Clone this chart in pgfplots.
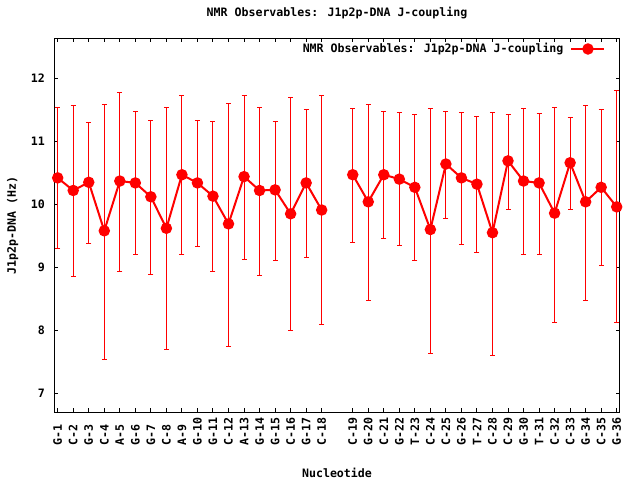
\documentclass[border=0pt]{standalone}
\usepackage{pgfplots}
\pgfplotsset{compat=1.18}
\usepackage{pgfplotstable}
\usepackage{fontspec}
\setmainfont{DejaVu Sans Mono}
\pgfplotstableread{
x y ep em
1 10.42 1.12 1.12
2 10.22 1.35 1.36
3 10.35 0.95 0.97
4 9.58 2.01 2.04
5 10.37 1.41 1.43
6 10.34 1.14 1.13
7 10.12 1.21 1.24
8 9.62 1.92 1.92
9 10.47 1.26 1.26
10 10.34 0.99 1.01
11 10.13 1.19 1.19
12 9.69 1.91 1.94
13 10.44 1.29 1.31
14 10.22 1.32 1.35
15 10.23 1.09 1.12
16 9.85 1.85 1.85
17 10.34 1.17 1.18
18 9.91 1.82 1.81
}\first
\pgfplotstableread{
x y ep em
20 10.47 1.05 1.07
21 10.04 1.55 1.56
22 10.47 1.01 1.01
23 10.40 1.06 1.05
24 10.27 1.16 1.16
25 9.60 1.92 1.97
26 10.64 0.84 0.86
27 10.42 1.04 1.05
28 10.32 1.08 1.08
29 9.55 1.91 1.95
30 10.69 0.74 0.77
31 10.37 1.15 1.16
32 10.34 1.10 1.13
33 9.86 1.68 1.73
34 10.66 0.72 0.74
35 10.04 1.53 1.56
36 10.27 1.24 1.24
37 9.96 1.84 1.83
}\second
\begin{document}
\begin{tikzpicture}
\path[use as bounding box] (-54.3bp,-67.7bp) rectangle (585.7bp,412.3bp);
\begin{axis}[
  at={(0,0)}, anchor=south west,
  scale only axis, width=565.4bp, height=374bp,
  xmin=0.781, xmax=37.193, ymin=6.70, ymax=12.635,
  font=\fontsize{11.6bp}{13bp}\selectfont\bfseries,
  /pgf/number format/assume math mode=true,
  axis line style={line width=1bp, black},
  tick style={line width=1bp, black},
  major tick length=4bp, tick align=inside,
  xtick={1,...,18,20,21,...,37},
  xticklabels={G-1,C-2,G-3,C-4,A-5,G-6,G-7,C-8,A-9,G-10,G-11,C-12,A-13,G-14,G-15,C-16,G-17,C-18,C-19,G-20,C-21,G-22,T-23,C-24,C-25,G-26,T-27,C-28,C-29,G-30,T-31,C-32,C-33,G-34,C-35,G-36},
  ytick={7,8,9,10,11,12},
  xticklabel style={yshift=-33.7bp, rotate=90, anchor=west, inner sep=0pt},
  yticklabel style={xshift=-9.3bp, anchor=east, inner sep=0pt},
  title={NMR Observables: J1p2p-DNA J-coupling},
  title style={at={(axis description cs:0.5,1.0516)}, anchor=center, inner sep=0pt},
  xlabel={Nucleotide},
  xlabel style={at={(axis description cs:0.5,-0.1623)}, anchor=center, inner sep=0pt},
  ylabel={J1p2p-DNA (Hz)},
  ylabel style={at={(axis description cs:-0.0736,0.5)}, anchor=center, inner sep=0pt},
  legend style={at={(axis description cs:0.9752,0.9714)}, anchor=east, draw=none, fill=none, inner sep=0pt, column sep=7bp, nodes={inner sep=0pt}},
  legend plot pos=right,
  legend cell align=right,
  legend image code/.code={\draw[mark repeat=2, mark phase=2, #1] plot coordinates {(0bp,0bp) (16.5bp,0bp) (33bp,0bp)};},
]
\addplot[red, line width=2bp, mark=*, mark size=4.7bp, mark options={solid, fill=red},
  error bars/.cd, y dir=both, y explicit,
  error bar style={line width=1bp, red},
  error mark options={line width=1bp, red, mark size=2.5bp, rotate=90}]
  table[x=x, y=y, y error plus=ep, y error minus=em] {\first};
\addlegendentry{NMR Observables: J1p2p-DNA J-coupling}
\addplot[red, line width=2bp, mark=*, mark size=4.7bp, mark options={solid, fill=red}, forget plot,
  error bars/.cd, y dir=both, y explicit,
  error bar style={line width=1bp, red},
  error mark options={line width=1bp, red, mark size=2.5bp, rotate=90}]
  table[x=x, y=y, y error plus=ep, y error minus=em] {\second};
\end{axis}
\end{tikzpicture}
\end{document}
